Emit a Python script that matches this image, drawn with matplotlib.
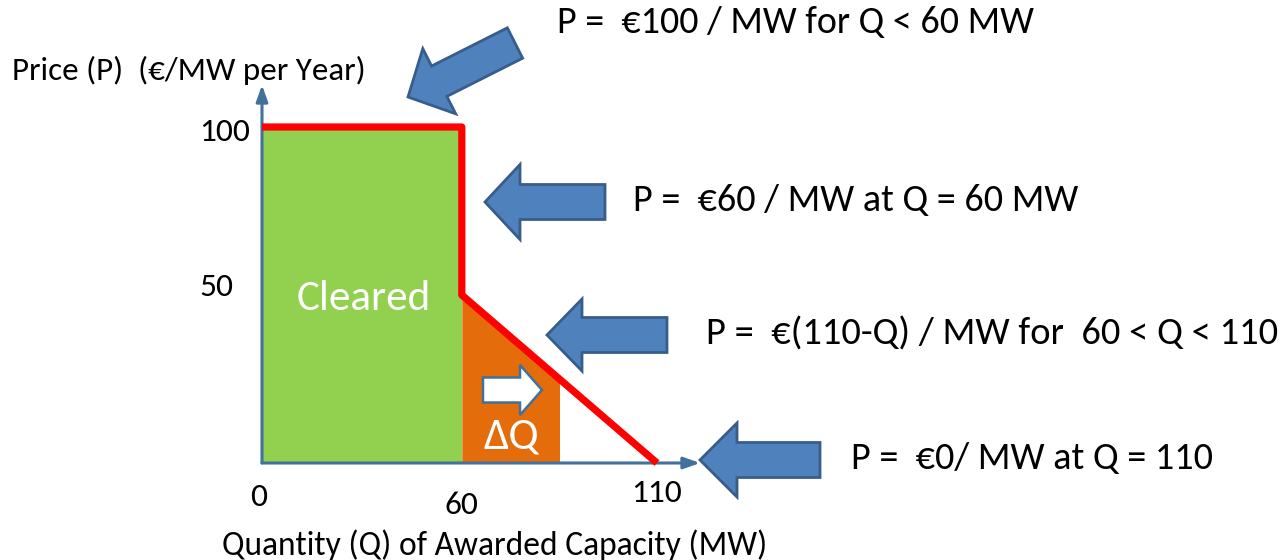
import numpy as np
import matplotlib
matplotlib.use("Agg")
import matplotlib.pyplot as plt
from matplotlib.patches import Polygon

plt.rcParams['font.family'] = ['Carlito', 'Lato', 'DejaVu Sans']

# ---- data ----
curve_q = [0, 60, 60, 110]          # supply/demand curve quantity (MW)
curve_p = [100, 100, 50, 0]         # price (EUR/MW per year)
cleared_q = [0, 60]
cleared_p = [100, 100]
delta_q = [60, 85]
delta_p = [50, 25]
x_ticks = [0, 60, 110]
x_tick_labels = ['0', '60', '110']
y_ticks = [100, 50]
y_tick_labels = ['100', '50']
annotations = [
    'P =  €100 / MW for Q < 60 MW',
    'P =  €60 / MW at Q = 60 MW',
    'P =  €(110-Q) / MW for  60 < Q < 110',
    'P =  €0/ MW at Q = 110',
]

GREEN = '#92D050'
ORANGE = '#E46C0A'
RED = '#FF0000'
AX_BLUE = '#41719C'
ARROW_FILL = '#4F81BD'
ARROW_EDGE = '#385D8A'

W, H = 1284, 560
fig = plt.figure(figsize=(W / 100, H / 100), dpi=100)
fig.patch.set_facecolor('white')

# chart axes (non-uniform x scale as in the schematic)
def fwd(q):
    q = np.asarray(q, float)
    return np.where(q <= 60, q * 3.33, 200 + (q - 60) * 3.9)

def inv(x):
    x = np.asarray(x, float)
    return np.where(x <= 200, x / 3.33, 60 + (x - 200) / 3.9)

ox, oy = 262, 463
ax = fig.add_axes([ox / W, (H - oy) / H, 395 / W, 336 / H])
ax.set_xscale('function', functions=(fwd, inv))
ax.set_xlim(0, 110)
ax.set_ylim(0, 100)
ax.axis('off')

ax.fill_between(cleared_q, 0, cleared_p, color=GREEN, lw=0, zorder=1)
ax.fill_between(delta_q, 0, delta_p, color=ORANGE, lw=0, zorder=1)

# axis arrows
ax_w, ax_h = 395, 336
for xy in [(0, (oy - 85) / ax_h), ((700 - ox) / ax_w, 0)]:
    ax.annotate('', xy=xy, xytext=(0, 0), xycoords='axes fraction',
                arrowprops=dict(arrowstyle='-|>,head_length=0.7,head_width=0.25', color=AX_BLUE,
                                lw=2.2, shrinkA=0, shrinkB=0, mutation_scale=14),
                annotation_clip=False, zorder=2)

ax.plot(curve_q, curve_p, color=RED, lw=5.2, solid_joinstyle='round',
        solid_capstyle='butt', zorder=3, clip_on=False)

# overlay axes in pixel coordinates for annotations
ov = fig.add_axes([0, 0, 1, 1])
ov.set_xlim(0, W)
ov.set_ylim(H, 0)
ov.axis('off')

renderer = fig.canvas.get_renderer()

def fit_text(t, target_w):
    bb = t.get_window_extent(renderer)
    t.set_fontsize(t.get_fontsize() * target_w / bb.width)
    return t

def block_arrow(tip, tail, shaft_w, head_w, head_len, fc, ec, lw):
    tip = np.array(tip, float)
    tail = np.array(tail, float)
    d = tip - tail
    L = np.hypot(*d)
    u = d / L
    n = np.array([-u[1], u[0]])
    base = tip - u * head_len
    pts = [tail + n * shaft_w / 2, base + n * shaft_w / 2, base + n * head_w / 2, tip,
           base - n * head_w / 2, base - n * shaft_w / 2, tail - n * shaft_w / 2]
    ov.add_patch(Polygon(pts, closed=True, fc=fc, ec=ec, lw=lw, joinstyle='miter', zorder=5))

# big blue arrows
block_arrow((408, 97), (515, 43), 34, 73, 35, ARROW_FILL, ARROW_EDGE, 2.0)
block_arrow((485, 202), (605, 202), 35, 75, 35, ARROW_FILL, ARROW_EDGE, 2.0)
block_arrow((547, 335), (667, 335), 35, 72, 35, ARROW_FILL, ARROW_EDGE, 2.0)
block_arrow((700, 460), (820, 460), 35, 74, 37, ARROW_FILL, ARROW_EDGE, 2.0)
# small white arrow in delta Q area
block_arrow((542, 390), (483, 390), 25, 50, 22, 'white', AX_BLUE, 1.8)

# annotation texts
ann_pos = [(557, 22, 478), (633, 200, 445), (706, 334, 572), (851, 458, 363)]
for txt, (x, y, w) in zip(annotations, ann_pos):
    t = ov.text(x, y, txt, ha='left', va='center', fontsize=24, color='black')
    fit_text(t, w)

# axis titles
t = ov.text(12, 70, 'Price (P)  (€/MW per Year)', ha='left', va='center', fontsize=18)
fit_text(t, 353)
t = ov.text(222, 545, 'Quantity (Q) of Awarded Capacity (MW)', ha='left', va='center', fontsize=18)
fit_text(t, 545)

# tick labels
x_label_y = [497, 505, 493]
for q, lab, yy in zip(x_ticks, x_tick_labels, x_label_y):
    xpix = ox + float(fwd(q))
    ov.text(xpix - 3 if q == 0 else xpix, yy, lab, ha='center', va='center', fontsize=24)
y_label_y = {100: 132, 50: 287}
for p, lab in zip(y_ticks, y_tick_labels):
    ov.text(199, y_label_y[p], lab, ha='left', va='center', fontsize=24)

# region labels
t = ov.text(297, 298, 'Cleared', ha='left', va='center', fontsize=26, color='white')
fit_text(t, 134)
t = ov.text(484, 436, 'ΔQ', ha='left', va='center', fontsize=26, color='white')
fit_text(t, 56)

fig.savefig('out.png', dpi=100, facecolor='white')
